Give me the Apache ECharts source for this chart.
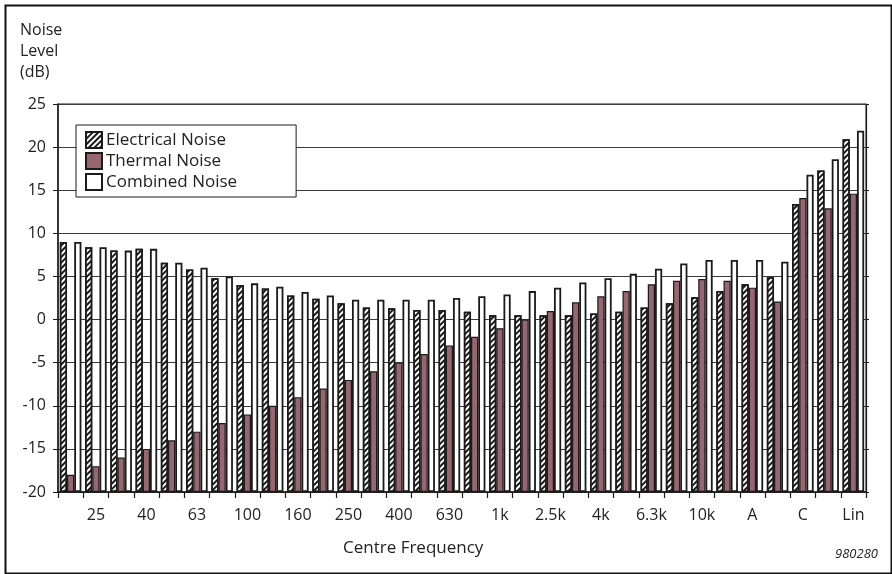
<!DOCTYPE html>
<html><head><meta charset="utf-8">
<script src="https://cdn.jsdelivr.net/npm/echarts@6/dist/echarts.min.js"></script>
<style>html,body{margin:0;padding:0;background:#fff}#c{width:892px;height:574px}</style>
</head><body><div id="c"></div>
<script>
const categories = ['20','25','31.5','40','50','63','80','100','125','160','200','250','315','400','500','630','800','1k','1.6k','2.5k','3.15k','4k','5k','6.3k','8k','10k','12.5k','A','16k','C','20k','Lin'];
const electrical = [9.0, 8.4, 8.0, 8.2, 6.6, 5.8, 4.8, 4.0, 3.6, 2.8, 2.4, 1.9, 1.4, 1.3, 1.1, 1.1, 0.9, 0.5, 0.5, 0.5, 0.5, 0.7, 0.9, 1.4, 1.9, 2.6, 3.3, 4.1, 4.9, 13.4, 17.3, 20.9];
const thermal = [-18, -17, -16, -15, -14, -13, -12, -11, -10, -9, -8, -7, -6, -5, -4, -3, -2, -1, 0, 1, 2, 2.7, 3.3, 4.1, 4.5, 4.7, 4.5, 3.7, 2.1, 14.1, 12.9, 14.6];
const combined = [9.0, 8.4, 8.0, 8.2, 6.6, 6.0, 5.0, 4.2, 3.8, 3.2, 2.8, 2.3, 2.3, 2.3, 2.3, 2.5, 2.7, 2.9, 3.3, 3.7, 4.3, 4.8, 5.3, 5.9, 6.5, 6.9, 6.9, 6.9, 6.7, 16.8, 18.6, 21.9];
const seriesNames = ['Electrical Noise', 'Thermal Noise', 'Combined Noise'];
const yMin = -20, yMax = 25, yStep = 5;

const FONT = 'Open Sans';
const INK = '#222';
const styles = [
  {color: '#fff', borderColor: '#1a1a1a', borderWidth: 1.5,
   decal: {symbol: 'rect', symbolSize: 1, color: '#1a1a1a', dashArrayX: [1, 0], dashArrayY: [1.4, 1.8], rotation: -Math.PI / 4}},
  {color: '#98666f', borderColor: '#1a1a1a', borderWidth: 1.2},
  {color: '#fff', borderColor: '#1a1a1a', borderWidth: 1.8}
];
const values = [electrical, thermal, combined];
const series = [];
values.forEach((vals, i) => {
  const stackId = 's' + i;
  series.push({
    type: 'bar', stack: stackId, stackStrategy: 'all', barWidth: 7.2, barGap: '0%',
    silent: true, itemStyle: {color: 'rgba(0,0,0,0)', borderWidth: 0},
    data: vals.map(() => yMin)
  });
  series.push({
    type: 'bar', name: seriesNames[i], stack: stackId, stackStrategy: 'all', barWidth: 7.2, barGap: '0%',
    itemStyle: styles[i],
    data: vals.map(v => v - yMin)
  });
});

const chart = echarts.init(document.getElementById('c'), null, {renderer: 'canvas'});
chart.setOption({
  animation: false,
  backgroundColor: '#fff',
  textStyle: {fontFamily: FONT, color: INK},
  grid: {left: 58, right: 26, top: 104, bottom: 82, show: true, borderColor: '#1a1a1a', borderWidth: 1},
  legend: {
    orient: 'vertical', left: 76, top: 125, data: seriesNames,
    icon: 'rect', itemWidth: 16, itemHeight: 16, itemGap: 3,
    padding: [6, 59, 6, 9], borderColor: '#1a1a1a', borderWidth: 1, backgroundColor: '#fff',
    textStyle: {fontFamily: FONT, fontSize: 17, color: INK, padding: [0, 0, 0, -1]},
    selectedMode: false
  },
  xAxis: {
    type: 'category', data: categories,
    axisLine: {onZero: false, lineStyle: {color: '#1a1a1a', width: 1.5}},
    axisTick: {show: true, interval: 0, length: 6, alignWithLabel: false, lineStyle: {color: '#1a1a1a', width: 1.2}},
    axisLabel: {interval: (i) => i % 2 === 1, fontFamily: FONT, fontSize: 16, color: INK, margin: 15},
    splitLine: {show: false}
  },
  yAxis: [{
    type: 'value', min: yMin, max: yMax, interval: yStep,
    axisLine: {show: true, lineStyle: {color: '#1a1a1a', width: 1.5}},
    axisTick: {show: true, length: 5, lineStyle: {color: '#1a1a1a'}},
    axisLabel: {fontFamily: FONT, fontSize: 16, color: INK, margin: 12},
    splitLine: {show: true, lineStyle: {color: '#3a3a3a', width: 1}}
  }, {
    type: 'value', position: 'right', min: yMin, max: yMax, interval: yStep,
    axisLine: {show: true, lineStyle: {color: '#1a1a1a', width: 1.2}},
    axisTick: {show: true, length: 3, lineStyle: {color: '#1a1a1a'}},
    axisLabel: {show: false}, splitLine: {show: false}
  }],
  graphic: [
    {type: 'rect', left: 3, top: 3, shape: {width: 886, height: 568}, style: {fill: 'none', stroke: '#111', lineWidth: 2}, silent: true},
    {type: 'text', left: 20, top: 20, style: {text: 'Noise\nLevel\n(dB)', font: '16px "Open Sans"', fill: INK, lineHeight: 21}},
    {type: 'text', left: 343, top: 540, style: {text: 'Centre Frequency', font: '17px "Open Sans"', fill: INK}},
    {type: 'text', left: 835, top: 548, style: {text: '980280', font: 'italic 13px "Open Sans"', fill: INK}}
  ],
  series: series
});
</script></body></html>
